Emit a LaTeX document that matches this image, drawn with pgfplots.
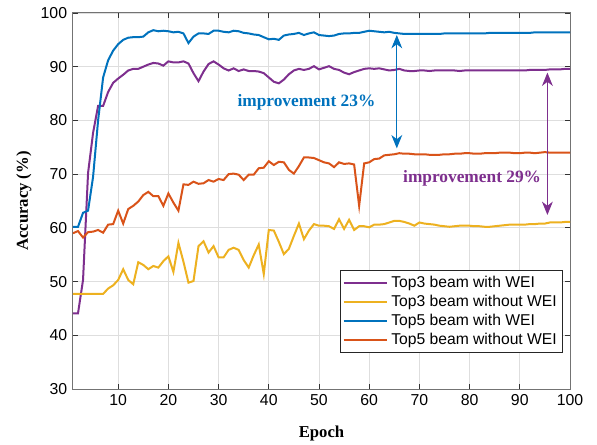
\documentclass[border=0pt]{standalone}
\usepackage{fontspec}
\setmainfont{Liberation Serif}
\newfontfamily\arial{Liberation Sans}
\usepackage{pgfplots}
\usepackage{pgfplotstable}
\pgfplotsset{compat=1.18}
\usetikzlibrary{arrows.meta}
\definecolor{mblue}{HTML}{0072BD}
\definecolor{morange}{HTML}{D95319}
\definecolor{myellow}{HTML}{EDB120}
\definecolor{mpurple}{HTML}{7E2F8E}

% epoch, top3 with WEI, top3 without WEI, top5 with WEI, top5 without WEI
\pgfplotstableread{
ep t3w t3o t5w t5o
1 44.1 47.7 60.2 59.0
2 44.1 47.7 60.2 59.4
3 50.3 47.7 62.8 58.2
4 70.2 47.7 63.2 59.2
5 77.7 47.7 69.5 59.3
6 82.7 47.7 80.0 59.6
7 82.7 47.7 88.0 59.1
8 85.3 48.7 91.2 60.6
9 87.0 49.3 93.0 60.7
10 87.8 50.3 94.2 63.2
11 88.5 52.3 95.0 60.8
12 89.3 50.3 95.4 63.5
13 89.6 49.5 95.5 64.1
14 89.6 53.6 95.5 64.9
15 90.0 53.1 95.6 66.1
16 90.4 52.3 96.4 66.7
17 90.7 52.9 96.8 65.9
18 90.6 52.6 96.6 65.9
19 90.2 53.8 96.7 64.1
20 91.0 54.7 96.6 66.4
21 90.8 51.8 96.4 64.7
22 90.8 57.2 96.5 63.2
23 91.0 53.7 96.2 68.1
24 90.6 49.8 94.4 68.0
25 88.8 50.1 95.6 68.6
26 87.3 56.6 96.2 68.2
27 89.1 57.5 96.2 68.3
28 90.5 55.4 96.1 68.9
29 91.0 56.6 96.7 68.6
30 90.4 54.5 96.7 69.1
31 89.7 54.5 96.5 68.9
32 89.3 55.9 96.4 70.0
33 89.7 56.3 96.7 70.1
34 89.2 55.9 96.6 69.9
35 89.5 54.0 96.3 68.9
36 89.2 52.6 96.2 69.9
37 89.2 54.9 96.0 69.9
38 89.1 56.9 95.9 71.1
39 88.8 51.4 95.5 71.2
40 88.0 59.6 95.1 72.4
41 87.2 59.5 95.2 71.7
42 86.9 57.4 95.0 72.3
43 87.6 55.1 95.8 72.2
44 88.6 56.1 96.0 70.8
45 89.3 58.5 96.1 70.1
46 89.6 60.8 96.3 71.5
47 89.4 57.9 95.9 73.1
48 89.6 59.5 96.2 73.1
49 90.1 60.7 96.4 73.0
50 89.5 60.4 95.9 72.6
51 89.8 60.4 95.8 72.2
52 90.1 60.3 95.7 72.0
53 89.6 59.8 95.8 71.3
54 89.4 61.6 96.1 72.2
55 88.9 59.8 96.2 71.9
56 88.6 61.5 96.2 72.0
57 89.0 59.6 96.3 71.8
58 89.3 60.3 96.3 64.1
59 89.6 60.3 96.5 72.0
60 89.7 60.1 96.7 72.2
61 89.6 60.6 96.6 72.8
62 89.7 60.6 96.5 72.9
63 89.5 60.7 96.4 73.5
64 89.3 61.0 96.5 73.6
65 89.4 61.3 96.3 73.7
66 89.6 61.3 96.2 73.9
67 89.3 61.1 96.1 73.8
68 89.2 60.8 96.1 73.8
69 89.2 60.4 96.1 73.7
70 89.3 61.0 96.1 73.7
71 89.3 60.8 96.1 73.7
72 89.2 60.7 96.1 73.6
73 89.3 60.6 96.1 73.6
74 89.3 60.4 96.1 73.6
75 89.3 60.3 96.2 73.7
76 89.3 60.2 96.2 73.7
77 89.3 60.3 96.2 73.8
78 89.2 60.4 96.2 73.8
79 89.3 60.4 96.2 73.9
80 89.3 60.4 96.2 73.9
81 89.3 60.3 96.2 73.8
82 89.3 60.3 96.2 73.8
83 89.3 60.2 96.2 73.9
84 89.3 60.2 96.3 73.9
85 89.3 60.3 96.3 73.9
86 89.3 60.4 96.3 74.0
87 89.3 60.5 96.3 74.0
88 89.3 60.6 96.3 74.0
89 89.3 60.6 96.3 73.9
90 89.3 60.6 96.3 73.9
91 89.3 60.6 96.3 74.0
92 89.4 60.7 96.3 74.0
93 89.4 60.7 96.4 73.9
94 89.4 60.8 96.4 74.0
95 89.4 60.8 96.4 74.1
96 89.5 61.0 96.4 74.0
97 89.5 61.0 96.4 74.0
98 89.5 61.0 96.4 74.0
99 89.6 61.1 96.4 74.0
100 89.6 61.1 96.4 74.0
}\acc

\begin{document}
\begin{tikzpicture}
\path[use as bounding box] (-43.8pt,-33.6pt) rectangle (314.4pt,233.4pt);
\begin{axis}[
    scale only axis,
    width=298.2pt, height=225.6pt,
    xmin=1, xmax=100, ymin=30, ymax=100,
    xtick={10,20,...,100}, ytick={30,40,...,100},
    grid=major,
    grid style={color=black!13, line width=0.5pt},
    axis line style={color=black!55, line width=0.6pt},
    tick style={color=black!80, line width=0.5pt},
    tick align=inside, major tick length=3pt,
    ticklabel style={font=\arial\fontsize{9.5}{11}\selectfont},
    /pgf/number format/assume math mode=true,
    xlabel={\bfseries Epoch},
    ylabel={\bfseries Accuracy (\%)},
    label style={font=\fontsize{10}{12}\selectfont},
    xlabel style={at={(axis description cs:0.5,-0.117)}, anchor=center},
    ylabel style={at={(axis description cs:-0.0986,0.5)}, anchor=center},
    legend style={at={(0.986,0.096)}, anchor=south east, draw=black!85,
        line width=0.5pt, fill=white, font=\arial\fontsize{9.4}{11}\selectfont,
        inner sep=1.5pt, row sep=-1pt},
    legend cell align=left,
    legend image code/.code={\draw[#1] (0pt,0pt) -- (26pt,0pt);},
    every axis plot/.append style={line width=1.2pt, mark=none},
]
\addplot[color=mpurple] table[x=ep, y=t3w] {\acc};
\addlegendentry{Top3 beam with WEI}
\addplot[color=myellow] table[x=ep, y=t3o] {\acc};
\addlegendentry{Top3 beam without WEI}
\addplot[color=mblue] table[x=ep, y=t5w] {\acc};
\addlegendentry{Top5 beam with WEI}
\addplot[color=morange] table[x=ep, y=t5o] {\acc};
\addlegendentry{Top5 beam without WEI}

\draw[mblue, line width=0.6pt, {Stealth[length=8pt,width=6.5pt,inset=2.5pt]}-{Stealth[length=8pt,width=6.5pt,inset=2.5pt]}]
    (axis cs:65.5,95.9) -- (axis cs:65.5,74.8);
\draw[mpurple, line width=0.6pt, {Stealth[length=8pt,width=6.5pt,inset=2.5pt]}-{Stealth[length=8pt,width=6.5pt,inset=2.5pt]}]
    (axis cs:95.5,88.9) -- (axis cs:95.5,62.4);
\node[mblue, font=\bfseries\fontsize{10.4}{12}\selectfont] at (axis cs:47.5,83.4) {improvement 23\%};
\node[mpurple, font=\bfseries\fontsize{10.4}{12}\selectfont] at (axis cs:80.5,69.3) {improvement 29\%};
\end{axis}
\end{tikzpicture}
\end{document}
